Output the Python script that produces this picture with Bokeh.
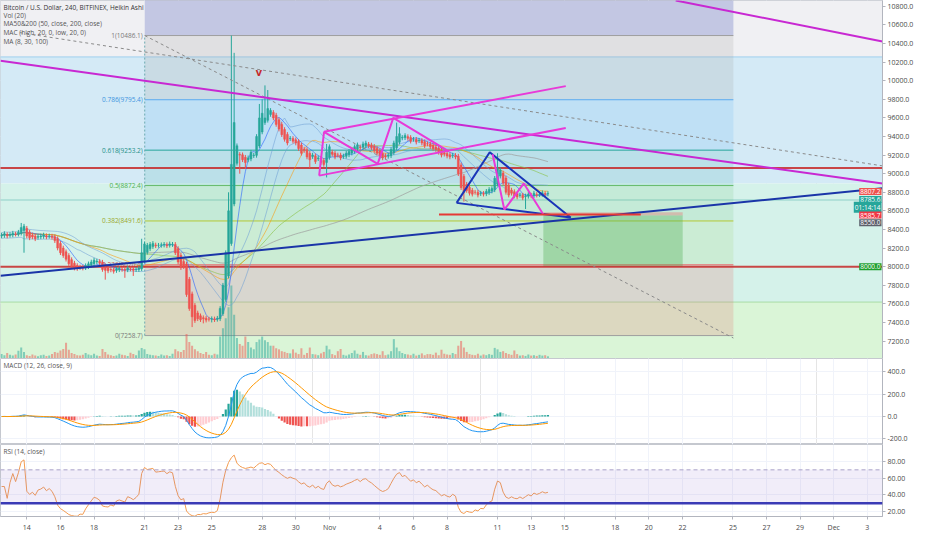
import numpy as np
import pandas as pd
from bokeh.plotting import figure
from bokeh.layouts import column
from bokeh.models import Range1d, FixedTicker, NumeralTickFormatter, Label, Span, BoxAnnotation, Grid
from bokeh.core.properties import value
from bokeh.embed import file_html
from bokeh.resources import INLINE

FONT = "Open Sans"

# ---------------- data (BTCUSD 4h Heikin Ashi, Bitfinex) ----------------
bar_start = "2019-10-12 12:00"
ha_close = [
    8340, 8355, 8330, 8345, 8360, 8350, 8370,
    8420, 8435,
    8330, 8310, 8320, 8300, 8325, 8330, 8340, 8320, 8330, 8315,
    8280, 8200, 8150, 8120, 8080, 8030, 8000,
    7985, 7980, 7990, 7985,
    8010, 8030, 8050, 8070, 8060, 8040,
    7970, 7960, 7955, 7965, 7950, 7975, 7980, 7970, 7960, 7985, 7975, 7960, 7970, 7985,
    8150, 8245,
    8230, 8240, 8250, 8225, 8230, 8235, 8240, 8225, 8245, 8240,
    8150, 8050, 7990, 8000,
    7700, 7550, 7460, 7420, 7440,
    7430, 7440, 7425, 7435, 7440, 7430, 7445,
    7550, 7800, 8150, 8600,
    9100, 9550,
    9300, 9200, 9150, 9120, 9170, 9230, 9200,
    9400, 9600,
    9650, 9600, 9700, 9680,
    9600, 9530, 9480, 9420, 9370, 9330,
    9380, 9350, 9330, 9270, 9220, 9250, 9180, 9150, 9200, 9130, 9170, 9120, 9100,
    9230, 9290,
    9210, 9180, 9200, 9170, 9190, 9220, 9240,
    9260, 9290, 9310, 9280, 9320, 9330, 9300, 9280,
    9250, 9220, 9190, 9170, 9180, 9200,
    9260, 9330, 9400, 9430, 9390, 9410,
    9380, 9350, 9370, 9340, 9360, 9330, 9300, 9320,
    9290, 9270, 9260, 9230, 9200, 9210, 9190, 9180, 9200, 9180,
    9000, 8850, 8800,
    8820, 8790, 8780, 8800, 8770, 8790, 8780,
    8810, 8830, 8840,
    8950, 9060, 9040,
    8900, 8800, 8770,
    8790, 8760, 8750, 8770, 8740, 8760, 8780, 8760, 8790, 8770, 8780, 8795, 8780, 8786,
]
volume = [
    1200, 900, 1500, 1000, 800, 1100, 2100,
    3000, 1800,
    900, 700, 1100, 800, 600, 900, 1000, 700, 800, 1200,
    1800, 1600, 2200, 2600, 4300, 2400, 1500,
    1200, 900, 800, 1000,
    1500, 1100, 900, 1300, 800, 700,
    2600, 1800, 1100, 900, 700, 800, 1300, 1000, 900, 700, 1600, 1200, 900, 2200,
    2900, 2500,
    1200, 1000, 900, 800, 700, 1100, 800, 900, 700, 1300,
    2500, 2000, 1800, 2300,
    6700, 4500, 3500, 2500, 2000,
    1500, 1200, 1800, 1000, 900, 1300, 1100,
    6000, 8300, 11000, 14000,
    20000, 12000,
    5600, 4000, 3500, 6000, 4500, 3000, 2500,
    4500, 5200,
    6000, 5000, 4500, 3500,
    3500, 2800, 2500, 2000, 1800, 1500,
    1400, 2500, 1600, 1200, 2800, 1000, 1500, 3000, 1200, 1100, 900, 1400, 1800,
    3500, 2500,
    1200, 900, 2000, 2600, 1000, 800, 1100,
    1500, 2200, 1300, 1000, 1800, 900, 800, 1200,
    1400, 1200, 1000, 2000, 900, 1100,
    2000, 5300, 3000, 2000, 1500, 1200,
    1100, 900, 1300, 800, 1000, 1400, 900, 1200,
    1200, 1000, 1600, 900, 2400, 1300, 1100, 1000, 1500, 1200,
    3500, 4800, 3000,
    1800, 1200, 1000, 900, 1300, 800, 1100,
    900, 1200, 1000,
    2900, 2500, 1800,
    2000, 1500, 1200,
    1000, 2200, 1200, 800, 900, 700, 1100, 800, 900, 700, 1000, 800, 900, 600,
]
wick_high = {7: 8470, 50: 8300, 81: 8800, 82: 10486.1, 83: 10300, 92: 9750, 93: 9800,
             94: 9950, 95: 9900, 116: 9320, 141: 9550, 142: 9500, 177: 9220}
wick_low = {8: 8150, 37: 7860, 44: 7880, 47: 7900, 68: 7350, 72: 7390, 75: 7400,
            85: 9000, 87: 9050, 110: 9060, 116: 8960, 165: 8700, 187: 8620}

tick_dates = ["2019-10-14", "2019-10-16", "2019-10-18", "2019-10-21", "2019-10-23", "2019-10-25",
              "2019-10-28", "2019-10-30", "2019-11-01", "2019-11-04", "2019-11-06", "2019-11-08",
              "2019-11-11", "2019-11-13", "2019-11-15", "2019-11-18", "2019-11-20", "2019-11-22",
              "2019-11-25", "2019-11-27", "2019-11-29", "2019-12-01", "2019-12-03"]
tick_labels = ["14", "16", "18", "21", "23", "25", "28", "30", "Nov", "4", "6", "8", "11", "13",
               "15", "18", "20", "22", "25", "27", "29", "Dec", "3"]
price_ticks = list(range(7200, 11000, 200))
macd_ticks = [-200, 0, 200, 400]
rsi_ticks = [20, 40, 60, 80]

# Fibonacci retracement drawing
fib_low, fib_high = 7258.7, 10486.1
fib_ratios = [0, 0.236, 0.382, 0.5, 0.618, 0.786, 1]
fib_colors = ["#9e9e9e", "#e57373", "#b5c935", "#66bb6a", "#26a69a", "#5aaaf0", "#9e9e9e"]
fib_fill = ["#e57373", "#9ccc65", "#66bb6a", "#26a69a", "#64b5f6", "#a0a0a0"]
fib_days = [20.015, 55.03]           # days since 2019-10-01

# Trend line drawings (days since 2019-10-01, price)
desc_line = ([11.435, 63.9], [10214, 8895])
top_line = ([51.6, 63.9], [10863, 10423])
rise_line = ([11.435, 63.9], [7901, 8843])
chan_upper = ([30.68, 45.06], [9450, 9942])
chan_lower = ([30.39, 45.06], [8979, 9492])
zigzag = ([30.39, 30.68, 33.87, 34.80, 38.10], [8979, 9450, 9105, 9600, 9240])
triangle = ([38.565, 40.536, 45.348, 38.565], [8686, 9230, 8529, 8686])
small_zz = ([40.71, 41.406, 42.565, 43.725], [9209, 8613, 8895, 8560])
red_short = ([37.52, 49.52], [8560, 8560])
dash_a = ([12.594, 63.9], [10517, 9084])
dash_b = ([20.015, 55.03], [10486, 7232])
hlines = [9060, 8000]
position = dict(left=43.725, right=52.015, entry=8550.0, stop=8585.7, target=8000.0)
marker = (26.8, 10099)

# background zones (price)
zone_edges = [10863, 10256, 8895, 7619, 7012]
zone_colors = ["#f0f0f3", "#d4eaf6", "#d5f2ea", "#daf5d7"]
zone_lines = [(10256, "#9fcfee"), (8717, "#8fd0c8"), (7619, "#a9dba5")]

legend_lines = ["Bitcoin / U.S. Dollar, 240, BITFINEX, Heikin Ashi", "Vol (20)",
                "MA50&200 (50, close, 200, close)", "MAC (high, 20, 0, low, 20, 0)", "MA (8, 30, 100)"]

# ---------------- derived ----------------
epoch = pd.Timestamp("2019-10-01")
n = len(ha_close)
times = pd.date_range(bar_start, periods=n, freq="4h")
x = ((times - epoch) / pd.Timedelta(days=1)).values.astype(float)
c = np.array(ha_close, dtype=float)
o = np.empty(n)
o[0] = c[0] - 10
for i in range(1, n):
    o[i] = (o[i - 1] + c[i - 1]) / 2
hi = np.maximum(o, c) + 25
lo = np.minimum(o, c) - 25
for k, v in wick_high.items():
    hi[k] = v
for k, v in wick_low.items():
    lo[k] = v
up = c >= o
tick_x = [int(round((pd.Timestamp(d) - epoch) / pd.Timedelta(days=1))) for d in tick_dates]

s = pd.Series(c)
sma8 = s.rolling(8, min_periods=1).mean()
sma30 = s.rolling(30, min_periods=1).mean()
sma50 = s.rolling(50, min_periods=1).mean()
sma100 = s.rolling(100, min_periods=1).mean()
mac_hi = pd.Series(hi).rolling(20, min_periods=1).mean()
mac_lo = pd.Series(lo).rolling(20, min_periods=1).mean()

ema12 = s.ewm(span=12, adjust=False).mean()
ema26 = s.ewm(span=26, adjust=False).mean()
macd = ema12 - ema26
signal = macd.ewm(span=9, adjust=False).mean()
hist = (macd - signal).values
hcol = []
for i in range(n):
    prev = hist[i - 1] if i else hist[i]
    if hist[i] >= 0:
        hcol.append("#26a69a" if hist[i] >= prev else "#b2dfdb")
    else:
        hcol.append("#ef5350" if hist[i] <= prev else "#ffcdd2")

d = s.diff().fillna(0)
gain = d.clip(lower=0).ewm(alpha=1 / 14, adjust=True).mean()
loss = (-d.clip(upper=0)).ewm(alpha=1 / 14, adjust=True).mean()
rsi = (100 - 100 / (1 + gain / loss.replace(0, np.nan))).fillna(50)

# ---------------- figures ----------------
W = 916
RB = 32
H_MAIN = 358
VIEW = (11.435, 63.9)
PR = (7012, 10863)
xr = Range1d(*VIEW)
AX = "#b2b5be"
LBL = "#4a4a4a"


def make_fig(h, yr, ticks, fmt, xaxis=False):
    f = figure(width=W, height=h, x_range=xr, y_range=yr, output_backend="svg",
               toolbar_location=None, y_axis_location="right",
               x_axis_location="below" if xaxis else None,
               min_border_left=0, min_border_right=RB, min_border_top=0,
               min_border_bottom=18 if xaxis else 0)
    f.background_fill_color = "white"
    f.border_fill_color = "white"
    f.outline_line_color = "#c5c8cf"
    ya = f.yaxis[0]
    ya.ticker = FixedTicker(ticks=ticks)
    ya.formatter = NumeralTickFormatter(format=fmt)
    ya.axis_line_color = AX
    ya.major_tick_line_color = AX
    ya.major_tick_out = 3
    ya.major_tick_in = 0
    ya.minor_tick_line_color = None
    ya.major_label_text_font_size = "7px"
    ya.major_label_text_color = LBL
    ya.major_label_text_font = FONT
    ya.major_label_standoff = 2
    f.ygrid.grid_line_color = "#f0f3fa"
    f.ygrid.ticker = FixedTicker(ticks=ticks)
    if xaxis:
        xa = f.xaxis[0]
        xa.ticker = FixedTicker(ticks=tick_x)
        ov = {}
        for t, l in zip(tick_x, tick_labels):
            ov[t] = l
            ov[str(t)] = l
        xa.major_label_overrides = ov
        xa.axis_line_color = AX
        xa.major_tick_line_color = AX
        xa.major_tick_out = 3
        xa.major_tick_in = 0
        xa.minor_tick_line_color = None
        xa.major_label_text_font_size = "7px"
        xa.major_label_text_color = LBL
        xa.major_label_text_font = FONT
        xa.major_label_standoff = 3
        f.xgrid.grid_line_color = "#f0f3fa"
    else:
        f.add_layout(Grid(dimension=0, ticker=FixedTicker(ticks=tick_x), grid_line_color="#f0f3fa"))
    return f


main = make_fig(H_MAIN, Range1d(*PR), price_ticks, "0.0")
main.extra_y_ranges = {"vol": Range1d(0, 98000)}

# background zones
main.quad(left=VIEW[0] - 1, right=VIEW[1] + 1, top=zone_edges[:-1], bottom=zone_edges[1:],
          fill_color=zone_colors, line_color=None)
for pr, col in zone_lines:
    main.line([VIEW[0] - 1, VIEW[1] + 1], [pr, pr], line_color=col, line_width=1)

# fib retracement
levels = [fib_low + r * (fib_high - fib_low) for r in fib_ratios]
main.quad(left=fib_days[0], right=fib_days[1], top=levels[1:], bottom=levels[:-1],
          fill_color=fib_fill, fill_alpha=[0.22, 0.16, 0.15, 0.14, 0.18, 0.2], line_color=None)
main.quad(left=fib_days[0], right=fib_days[1], top=11000, bottom=fib_high,
          fill_color="#5c6bc0", fill_alpha=0.3, line_color=None)
for lv, col in zip(levels, fib_colors):
    main.line(fib_days, [lv, lv], line_color=col, line_width=1)
main.line([fib_days[0], fib_days[0]], [fib_low, fib_high], line_color="#6aa9b0", line_dash="2 2", line_width=1)
main.text(x=[fib_days[0]] * len(levels), y=levels,
          text=[f"{r:g}({lv:.1f})" for r, lv in zip(fib_ratios, levels)],
          text_color=["#7a7a7a", "#d05050", "#9aa82a", "#4caf50", "#1e9088", "#3d94e0", "#7a7a7a"],
          text_font=value(FONT), text_font_size="6.5px", text_align="right", text_baseline="middle",
          x_offset=-2)

# short position tool
main.quad(left=position["left"], right=position["right"], top=position["stop"], bottom=position["entry"],
          fill_color="#ef5350", fill_alpha=0.3, line_color=None)
main.quad(left=position["left"], right=position["right"], top=position["entry"], bottom=position["target"],
          fill_color="#4caf50", fill_alpha=0.35, line_color=None)

# horizontal red lines
for hl in hlines:
    main.line([VIEW[0] - 1, VIEW[1] + 1], [hl, hl], line_color="#c62828", line_width=2, alpha=0.85)

# volume
vcol = np.where(up, "#26a69a", "#ef5350")
main.vbar(x=x, top=volume, bottom=0, width=0.12, fill_color=vcol, line_color=None, fill_alpha=0.5,
          y_range_name="vol")

# moving averages
main.line(x, sma100, line_color="#9e9e9e", line_width=0.9, alpha=0.8)
main.line(x, sma50, line_color="#8bc34a", line_width=0.8, alpha=0.8)
main.line(x, sma30, line_color="#ff9800", line_width=0.8, alpha=0.7)
main.line(x, mac_hi, line_color="#6f9fd6", line_width=0.7, alpha=0.8)
main.line(x, mac_lo, line_color="#6f9fd6", line_width=0.7, alpha=0.8)
main.line(x, sma8, line_color="#2962ff", line_width=0.8, alpha=0.75)

# candles
ccol = np.where(up, "#26a69a", "#ef5350")
main.segment(x0=x, y0=lo, x1=x, y1=hi, line_color=ccol, line_width=1)
main.vbar(x=x, top=np.maximum(o, c), bottom=np.minimum(o, c), width=0.11, fill_color=ccol, line_color=ccol,
          line_width=0.5)

# drawings
main.line(*dash_a, line_color="#8a8a8a", line_dash="3 3", line_width=1)
main.line(*dash_b, line_color="#8a8a8a", line_dash="3 3", line_width=1)
main.line(*desc_line, line_color="#c828d2", line_width=2)
main.line(*top_line, line_color="#c828d2", line_width=2)
main.line(*rise_line, line_color="#1a35a8", line_width=2)
main.line(*chan_upper, line_color="#e83ad8", line_width=2)
main.line(*chan_lower, line_color="#e83ad8", line_width=2)
main.line(*zigzag, line_color="#e83ad8", line_width=2)
main.line(*triangle, line_color="#1a35b8", line_width=2)
main.line(*small_zz, line_color="#e83ad8", line_width=2)
main.line(*red_short, line_color="#e53935", line_width=2)
main.text(x=[marker[0]], y=[marker[1]], text=["v"], text_color="#c62828", text_font=value(FONT),
          text_font_size="11px", text_font_style="bold", text_align="center", text_baseline="middle")

# legend texts
leg_y = [10790, 10706, 10612, 10517, 10423]
main.text(x=[VIEW[0]] * len(legend_lines), y=leg_y, text=legend_lines,
          text_color=["#333333"] + ["#555555"] * 4, text_font=value(FONT), text_font_size="6.5px",
          text_baseline="middle", x_offset=3)

# price tags at the price scale edge
tags = [(8807.2, "8807.2", "#ef5350"), (8785.6, "8785.6", "#26a69a"), (8785.6, "01:14:14", "#26a69a"),
        (8585.7, "8585.7", "#f23645"), (8550.0, "8550.0", "#5d606b"), (8000.0, "8000.0", "#1e9e2d")]
prev = 1e9
for val, txt, col in tags:
    yv = min(val, prev - 84)
    prev = yv
    main.add_layout(Label(x=VIEW[1], y=yv, x_offset=-1, text=txt,
                          text_align="right", text_baseline="middle", level="overlay",
                          text_font=FONT, text_font_size="6.5px", text_color="white",
                          background_fill_color=col, padding=1))

# ---------------- MACD ----------------
mp = make_fig(86, Range1d(-250, 519), macd_ticks, "0.0")
mp.vbar(x=x, top=hist, bottom=0, width=0.13, fill_color=hcol, line_color=None)
mp.line(x, macd, line_color="#2196f3", line_width=1)
mp.line(x, signal, line_color="#ff9800", line_width=1)
mp.text(x=[VIEW[0]], y=[460], text=["MACD (12, 26, close, 9)"], text_color="#555555", text_font=value(FONT),
        text_font_size="6.5px", text_baseline="middle", x_offset=3)

# ---------------- RSI ----------------
rp = make_fig(90, Range1d(14, 100.4), rsi_ticks, "0.00", xaxis=True)
rp.add_layout(BoxAnnotation(bottom=30, top=70, fill_color="#9575cd", fill_alpha=0.13, line_color=None))
rp.add_layout(Span(location=70, dimension="width", line_color="#a9a2c8", line_dash="4 3", line_width=1))
rp.add_layout(Span(location=30, dimension="width", line_color="#3a3ab5", line_width=2.5))
rp.line(x, rsi, line_color="#f39c52", line_width=1)
rp.text(x=[VIEW[0]], y=[92], text=["RSI (14, close)"], text_color="#555555", text_font=value(FONT),
        text_font_size="6.5px", text_baseline="middle", x_offset=3)

layout = column(main, mp, rp, spacing=0)
open("out.html", "w").write(file_html(layout, INLINE))
